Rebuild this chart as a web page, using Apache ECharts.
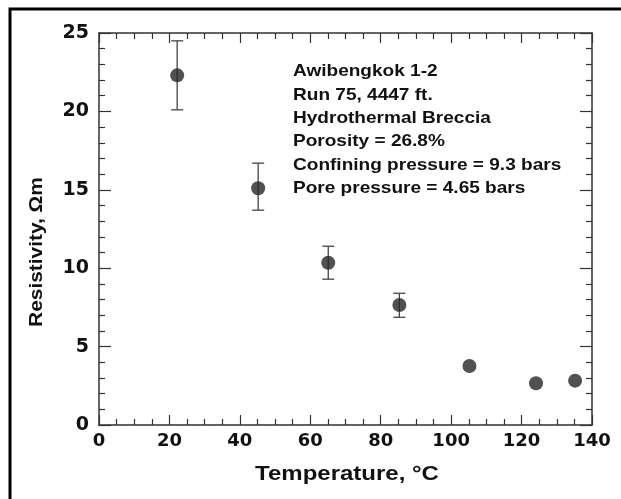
<!DOCTYPE html>
<html>
<head>
  <meta charset="utf-8" />
  <title>Resistivity vs Temperature</title>
  <script src="https://cdn.jsdelivr.net/npm/echarts@6/dist/echarts.min.js"></script>
</head>
<body style="margin:0;background:#fff">
  <div id="main" style="width: 621px; height: 499px"></div>
  <script>
    // values
    let temps = [22.2, 45.2, 65.1, 85.3, 105.2, 124.1, 135.2];
    let resist = [22.3, 15.1, 10.35, 7.65, 3.76, 2.66, 2.83];
    let errLow = [20.1, 13.7, 9.3, 6.87, 3.76, 2.66, 2.83];
    let errHigh = [24.5, 16.7, 11.4, 8.4, 3.76, 2.66, 2.83];
    let notes = [
      "Awibengkok 1-2",
      "Run 75, 4447 ft.",
      "Hydrothermal Breccia",
      "Porosity = 26.8%",
      "Confining pressure = 9.3 bars",
      "Pore pressure = 4.65 bars",
    ];

    let font = "'Liberation Sans', Arial, sans-serif";
    let numFont = "'DejaVu Sans', sans-serif";
    let ink = "#333";

    let points = temps.map((t, i) => [t, resist[i]]);
    let bars = temps
      .map((t, i) => [t, errLow[i], errHigh[i]])
      .filter((d) => d[2] - d[1] > 0.01);

    function axisX(pos, labels) {
      return {
        type: "value",
        position: pos,
        min: 0,
        max: 140,
        interval: 20,
        axisLine: { show: true, onZero: false, lineStyle: { color: ink, width: 1.5 } },
        axisTick: { show: true, inside: true, length: 10, lineStyle: { color: ink, width: 1.2 } },
        minorTick: { show: true, splitNumber: 4, length: 6, lineStyle: { color: ink, width: 1.2 } },
        splitLine: { show: false },
        axisLabel: {
          show: labels,
          margin: 7,
          color: "#111",
          fontFamily: numFont,
          fontWeight: "bold",
          fontSize: 18,
        },
      };
    }

    function axisY(pos, labels) {
      return {
        type: "value",
        position: pos,
        min: 0,
        max: 25,
        interval: 5,
        axisLine: { show: true, onZero: false, lineStyle: { color: ink, width: 1.5 } },
        axisTick: { show: true, inside: true, length: 12, lineStyle: { color: ink, width: 1.2 } },
        minorTick: { show: true, splitNumber: 5, length: 6, lineStyle: { color: ink, width: 1.2 } },
        splitLine: { show: false },
        axisLabel: {
          show: labels,
          margin: 10,
          color: "#111",
          fontFamily: numFont,
          fontWeight: "bold",
          fontSize: 19,
        },
      };
    }

    option = {
      animation: false,
      backgroundColor: "#fff",
      grid: { left: 99, right: 29, top: 33, bottom: 74 },
      xAxis: [axisX("bottom", true), axisX("top", false)],
      yAxis: [axisY("left", true), axisY("right", false)],
      graphic: [
        {
          type: "rect",
          shape: { x: 10, y: 9, width: 700, height: 600 },
          style: { fill: null, stroke: "#000", lineWidth: 3 },
          silent: true,
        },
        {
          type: "text",
          x: 37,
          y: 252,
          rotation: Math.PI / 2,
          scaleX: 1.16,
          style: {
            text: "Resistivity, Ωm",
            font: "bold 18px " + font,
            fill: "#111",
            align: "center",
            verticalAlign: "middle",
          },
        },
        {
          type: "text",
          x: 347,
          y: 474,
          scaleX: 1.2,
          style: {
            text: "Temperature, °C",
            font: "bold 20px " + font,
            fill: "#111",
            align: "center",
            verticalAlign: "middle",
          },
        },
        {
          type: "text",
          x: 293,
          y: 60,
          scaleX: 1.12,
          style: {
            text: notes.join("\n"),
            font: "bold 17px " + font,
            lineHeight: 23.3,
            fill: "#111",
          },
        },
      ],
      series: [
        {
          type: "custom",
          xAxisIndex: 0,
          yAxisIndex: 0,
          data: bars,
          renderItem: function (params, api) {
            let top = api.coord([api.value(0), api.value(2)]);
            let bot = api.coord([api.value(0), api.value(1)]);
            let w = 6;
            let st = { stroke: "#444", lineWidth: 1.3 };
            return {
              type: "group",
              children: [
                { type: "line", shape: { x1: top[0], y1: top[1], x2: bot[0], y2: bot[1] }, style: st },
                { type: "line", shape: { x1: top[0] - w, y1: top[1], x2: top[0] + w, y2: top[1] }, style: st },
                { type: "line", shape: { x1: bot[0] - w, y1: bot[1], x2: bot[0] + w, y2: bot[1] }, style: st },
              ],
            };
          },
          z: 2,
        },
        {
          type: "scatter",
          xAxisIndex: 0,
          yAxisIndex: 0,
          data: points,
          symbol: "circle",
          symbolSize: 14,
          itemStyle: { color: "#262626" },
          z: 3,
        },
      ],
    };

    chartLine = echarts.init(document.getElementById("main"));
    chartLine.setOption(option);
  </script>
</body>
</html>
